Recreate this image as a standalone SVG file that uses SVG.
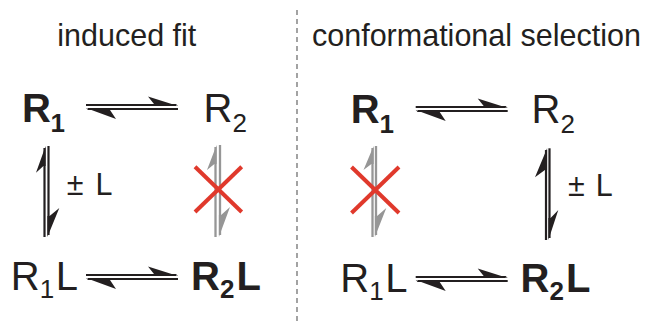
<svg xmlns="http://www.w3.org/2000/svg" width="646" height="323" viewBox="0 0 646 323">
<style>
text{font-family:"Liberation Sans",Arial,sans-serif;fill:#231f20}
.t{font-size:30.5px}
.m{font-size:40px}
.s{font-size:26px}
.b{font-weight:bold}
.ln{stroke:#231f20;stroke-width:2.2;fill:none}
.hd{fill:#231f20}
.gl{stroke:#969696;stroke-width:2.3;fill:none}
.gh{fill:#969696}
.x{stroke:#e0392c;stroke-width:4;fill:none}
</style>
<rect width="646" height="323" fill="#fff"/>
<line x1="297" y1="10" x2="297" y2="321" stroke="#666" stroke-width="1.2" stroke-dasharray="5 4"/>
<g id="titles">
<text class="t" x="57.3" y="46">induced fit</text>
<text class="t" x="312" y="46">conformational selection</text>
</g>
<g id="if-R1"><text class="m b" x="22" y="121.7">R<tspan class="s" x="50.4" y="131.7">1</tspan></text></g>
<g id="if-R2"><text class="m" x="203.5" y="121.7">R<tspan class="s" x="232.4" y="131.7">2</tspan></text></g>
<g id="if-R1L"><text class="m" x="10.8" y="290">R<tspan class="s" x="39.8" y="298">1</tspan><tspan x="55.8" y="290">L</tspan></text></g>
<g id="if-R2L"><text class="m b" x="191" y="290">R<tspan class="s" x="219.9" y="298">2</tspan><tspan x="236.6" y="290">L</tspan></text></g>
<g id="if-L"><text class="t" x="66.8" y="195">±<tspan x="95.5">L</tspan></text></g>
<g id="cs-R1"><text class="m b" x="350.7" y="123.2">R<tspan class="s" x="379.6" y="133.2">1</tspan></text></g>
<g id="cs-R2"><text class="m" x="531.5" y="123.2">R<tspan class="s" x="560.4" y="133.2">2</tspan></text></g>
<g id="cs-R1L"><text class="m" x="340.3" y="291.5">R<tspan class="s" x="369.3" y="299.5">1</tspan><tspan x="385.3" y="291.5">L</tspan></text></g>
<g id="cs-R2L"><text class="m b" x="520.5" y="291.5">R<tspan class="s" x="549.4" y="299.5">2</tspan><tspan x="566.1" y="291.5">L</tspan></text></g>
<g id="cs-L"><text class="t" x="568" y="196">±<tspan x="595.8">L</tspan></text></g>
<g id="connectors">
<g id="eq-if-top">
<line class="ln" x1="86" y1="105" x2="176" y2="105"/><polygon class="hd" points="178,106.1 148,96.5 154,103.9 176,103.9"/>
<line class="ln" x1="88" y1="109" x2="178" y2="109"/><polygon class="hd" points="86,107.9 116,119 110,110.1 88,110.1"/>
</g>
<g id="eq-if-bot" transform="translate(0,170)">
<line class="ln" x1="86" y1="105" x2="176" y2="105"/><polygon class="hd" points="178,106.1 148,96.5 154,103.9 176,103.9"/>
<line class="ln" x1="88" y1="109" x2="178" y2="109"/><polygon class="hd" points="86,107.9 116,119 110,110.1 88,110.1"/>
</g>
<g id="eq-cs-top" transform="translate(329.7,2)">
<line class="ln" x1="86" y1="105" x2="176" y2="105"/><polygon class="hd" points="178,106.1 148,96.5 154,103.9 176,103.9"/>
<line class="ln" x1="88" y1="109" x2="178" y2="109"/><polygon class="hd" points="86,107.9 116,119 110,110.1 88,110.1"/>
</g>
<g id="eq-cs-bot" transform="translate(329.7,172)">
<line class="ln" x1="86" y1="105" x2="176" y2="105"/><polygon class="hd" points="178,106.1 148,96.5 154,103.9 176,103.9"/>
<line class="ln" x1="88" y1="109" x2="178" y2="109"/><polygon class="hd" points="86,107.9 116,119 110,110.1 88,110.1"/>
</g>
<g id="v-if-black">
<line class="ln" x1="44.5" y1="148" x2="44.5" y2="237"/><polygon class="hd" points="45.6,146 36,172.7 43.4,166 45.6,166"/>
<line class="ln" x1="48.5" y1="146" x2="48.5" y2="235"/><polygon class="hd" points="47.4,237 59.3,208 49.6,216 47.4,216"/>
</g>
<g id="v-if-gray">
<line class="gl" x1="215.5" y1="147" x2="215.5" y2="237"/><polygon class="gh" points="216.6,145 207,170 214.4,164 216.6,164"/>
<line class="gl" x1="220" y1="145" x2="220" y2="235"/><polygon class="gh" points="218.9,237 230,207 221.1,215 218.9,215"/>
<line class="x" x1="195" y1="166.7" x2="241.7" y2="212"/><line class="x" x1="241.7" y1="166.7" x2="195" y2="212"/>
</g>
<g id="v-cs-gray">
<line class="gl" x1="372.5" y1="148" x2="372.5" y2="237"/><polygon class="gh" points="373.6,146 363.5,170 371.4,164 373.6,164"/>
<line class="gl" x1="376" y1="146" x2="376" y2="235"/><polygon class="gh" points="374.9,237 386.3,208 377.1,216 374.9,216"/>
<line class="x" x1="351.5" y1="167" x2="399" y2="213"/><line class="x" x1="399" y1="167" x2="351.5" y2="213"/>
</g>
<g id="v-cs-black">
<line class="ln" x1="546" y1="150" x2="546" y2="240"/><polygon class="hd" points="547.1,148.3 535,177.3 544.9,170 547.1,170"/>
<line class="ln" x1="549.5" y1="148.3" x2="549.5" y2="238"/><polygon class="hd" points="548.4,240 558.3,210 550.6,218 548.4,218"/>
</g>
</g>
</svg>
